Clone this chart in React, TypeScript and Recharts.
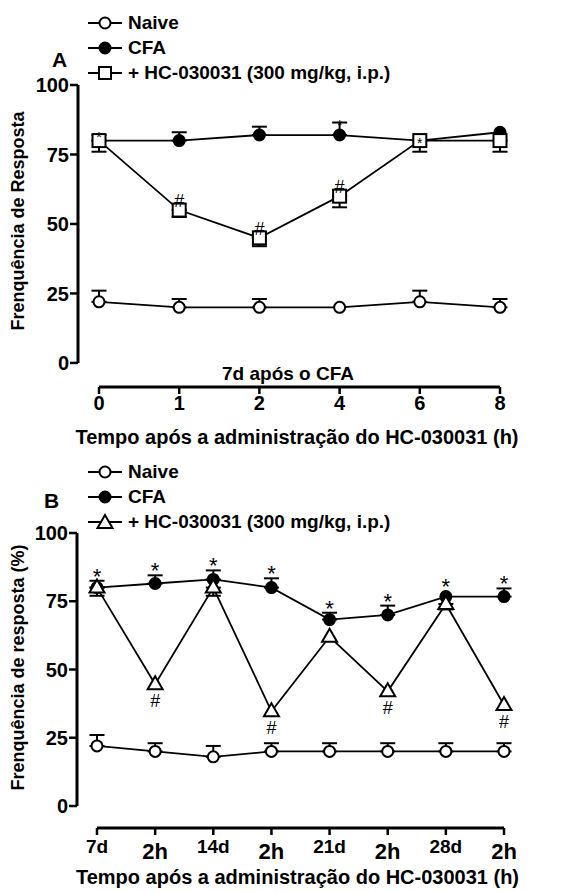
import React from "react";
import { LineChart, Line, XAxis, YAxis, ErrorBar, ReferenceLine, LabelList, Label } from "recharts";

const FONT = "'Liberation Sans', Arial, Helvetica, sans-serif";

// painel A: 7d após o CFA
const catsA = ["0", "1", "2", "4", "6", "8"];
const naiveA = [22, 20, 20, 20, 22, 20];
const naiveErrA = [4, 3, 3, null, 4, 3];
const cfaA = [80, 80, 82, 82, 80, 83];
const cfaErrA = [2, 3, 3, 4.5, null, null];
const hcA = [80, 55, 45, 60, 80, 80];
const hcErrA = [4, 2.5, 3, 4, 4, 4];
const hashA = ["", "#", "#", "#", "", ""];
const starA = ["*", "", "", "*", "*", ""];

// painel B: 7d, 14d, 21d, 28d e 2h após cada dose
const catsB = ["7d", "2h", "14d", "2h", "21d", "2h", "28d", "2h"];
const naiveB = [22, 20, 18, 20, 20, 20, 20, 20];
const naiveErrB = [4, 3, 4, 3, 3, 3, 3, 3];
const cfaB = [80, 81.5, 83, 80, 68.3, 70, 76.7, 76.7];
const cfaErrB = [2.5, 3, 3.3, 3.4, 2.5, 3.4, null, 3];
const hcB = [80, 44.6, 80, 34.7, 62, 42, 74, 37];
const hcErrB = [3, null, 3, null, null, null, 2, null];
const hashB = ["", "#", "", "#", "", "#", "", "#"];
const starB = ["*", "*", "*", "*", "*", "*", "*", "*"];

const up = (e: number | null) => (e == null ? null : [0, e]);
const down = (e: number | null) => (e == null ? null : [e, 0]);

const rowsA = catsA.map((_, i) => ({
  i,
  naive: naiveA[i],
  naiveErr: up(naiveErrA[i]),
  cfa: cfaA[i],
  cfaErr: up(cfaErrA[i]),
  hc: hcA[i],
  hcErr: down(hcErrA[i]),
  hash: hashA[i],
  star: starA[i],
  starY: starA[i] ? cfaA[i] + (cfaErrA[i] ?? 0) : null,
}));

const rowsB = catsB.map((_, i) => ({
  i,
  naive: naiveB[i],
  naiveErr: up(naiveErrB[i]),
  cfa: cfaB[i],
  cfaErr: up(cfaErrB[i]),
  hc: hcB[i],
  hcErr: down(hcErrB[i]),
  hash: hashB[i],
  star: starB[i],
  starY: starB[i] ? cfaB[i] + (cfaErrB[i] ?? 2) : null,
}));

// marcadores
const openCircle = (p: any) =>
  p.cx == null || p.cy == null ? <g key={`oc${p.index}`} /> : (
    <circle key={`oc${p.index}`} cx={p.cx} cy={p.cy} r={5.5} fill="#fff" stroke="#000" strokeWidth={2} />
  );
const filledCircle = (p: any) =>
  p.cx == null || p.cy == null ? <g key={`fc${p.index}`} /> : (
    <circle key={`fc${p.index}`} cx={p.cx} cy={p.cy} r={5.5} fill="#000" stroke="#000" strokeWidth={2} />
  );
const square = (p: any) =>
  p.cx == null || p.cy == null ? <g key={`sq${p.index}`} /> : (
    <rect key={`sq${p.index}`} x={p.cx - 6.5} y={p.cy - 6.5} width={13} height={13} fill="#fff" stroke="#000" strokeWidth={2} />
  );
const triangle = (p: any) =>
  p.cx == null || p.cy == null ? <g key={`tr${p.index}`} /> : (
    <polygon
      key={`tr${p.index}`}
      points={`${p.cx},${p.cy - 8} ${p.cx - 7.5},${p.cy + 5} ${p.cx + 7.5},${p.cy + 5}`}
      fill="#fff"
      stroke="#000"
      strokeWidth={2}
    />
  );

// rótulos # e *
const mark = (size: number, dy: number, weight = 400) => (p: any) => {
  if (!p.value || p.x == null || p.y == null) return null;
  return (
    <text key={`m${p.index}`} x={p.x} y={p.y + dy} textAnchor="middle" fontSize={size} fontWeight={weight}
      fontFamily={FONT} fill="#000">
      {p.value}
    </text>
  );
};

const tickStyle = { fill: "#000", fontSize: 20, fontWeight: 700, fontFamily: FONT };
const tickLine = { stroke: "#000", strokeWidth: 2.5 };

const TickA = (p: any) => (
  <text x={p.x} y={p.y + 7} textAnchor="middle" dominantBaseline="central" {...tickStyle}>
    {catsA[p.payload.value]}
  </text>
);

const TickB = (p: any) => {
  const lab = catsB[p.payload.value];
  const big = lab.endsWith("h");
  return (
    <text x={p.x} y={p.y + (big ? 14 : 9)} textAnchor="middle" dominantBaseline="central"
      fill="#000" fontWeight={700} fontFamily={FONT} fontSize={big ? 22 : 19}>
      {lab}
    </text>
  );
};

const yTitle = (text: string, dy: number) => (p: any) => {
  const vb = p.viewBox;
  const cx = vb.x + 18;
  const cy = vb.y + vb.height / 2 + dy;
  return (
    <text x={cx} y={cy} transform={`rotate(-90, ${cx}, ${cy})`} textAnchor="middle" dominantBaseline="central"
      fontSize={18} fontWeight={700} fontFamily={FONT} fill="#000">
      {text}
    </text>
  );
};

const xText = (text: string, dx: number, dy: number, size = 20) => (p: any) => {
  const vb = p.viewBox;
  return (
    <text x={vb.x + vb.width / 2 + dx} y={vb.y + dy} textAnchor="middle" dominantBaseline="central"
      fontSize={size} fontWeight={700} fontFamily={FONT} fill="#000">
      {text}
    </text>
  );
};

function Legend({ top, hcShape }: { top: number; hcShape: "square" | "triangle" }) {
  const rows = [
    { label: "Naive", shape: "open" },
    { label: "CFA", shape: "filled" },
    { label: "+ HC-030031 (300 mg/kg, i.p.)", shape: hcShape },
  ];
  return (
    <div style={{ position: "absolute", left: 87, top, fontFamily: FONT, fontWeight: 700, fontSize: 19 }}>
      {rows.map((r) => (
        <div key={r.label} style={{ display: "flex", alignItems: "center", height: 25 }}>
          <svg width={36} height={18} style={{ marginRight: 5 }}>
            <line x1={1} y1={9} x2={35} y2={9} stroke="#000" strokeWidth={2} />
            {r.shape === "open" && <circle cx={18} cy={9} r={5.5} fill="#fff" stroke="#000" strokeWidth={2} />}
            {r.shape === "filled" && <circle cx={18} cy={9} r={5.5} fill="#000" stroke="#000" strokeWidth={2} />}
            {r.shape === "square" && <rect x={12} y={3} width={12} height={12} fill="#fff" stroke="#000" strokeWidth={2} />}
            {r.shape === "triangle" && <polygon points="18,2 10.5,15 25.5,15" fill="#fff" stroke="#000" strokeWidth={2} />}
          </svg>
          <span>{r.label}</span>
        </div>
      ))}
    </div>
  );
}

// limites dos eixos (posição dos eixos destacados)
const yMinA = -8.66;
const xMinA = -0.262;
const yMinB = -8.06;
const xMinB = -0.344;

export default function App() {
  return (
    <div style={{ position: "relative", width: 580, height: 892, background: "#fff" }}>
      <style>{"body{margin:0}"}</style>

      <div style={{ position: "absolute", left: 0, top: 0 }}>
        <LineChart width={580} height={455} data={rowsA} margin={{ top: 85, right: 80, bottom: 0, left: 0 }}>
          <XAxis type="number" dataKey="i" domain={[xMinA, 5]} ticks={[0, 1, 2, 3, 4, 5]} interval={0}
            axisLine={false} tickLine={tickLine} tickSize={7} height={68} tick={<TickA />}>
            <Label content={xText("7d após o CFA", -1, -14, 19)} />
            <Label content={xText("Tempo após a administração do HC-030031 (h)", 8, 50)} />
          </XAxis>
          <YAxis domain={[yMinA, 100]} ticks={[0, 25, 50, 75, 100]} interval={0} width={78}
            axisLine={false} tickLine={tickLine} tickSize={8} tickMargin={1} tick={tickStyle}>
            <Label content={yTitle("Frenquência de Resposta", -15)} />
          </YAxis>
          <ReferenceLine segment={[{ x: xMinA, y: 0 }, { x: xMinA, y: 100 }]} stroke="#000" strokeWidth={3} ifOverflow="visible" />
          <ReferenceLine segment={[{ x: 0, y: yMinA }, { x: 5, y: yMinA }]} stroke="#000" strokeWidth={3} ifOverflow="visible" />
          <Line dataKey="naive" stroke="#000" strokeWidth={1.8} dot={openCircle} activeDot={false} isAnimationActive={false}>
            <ErrorBar dataKey="naiveErr" direction="y" width={7.5} strokeWidth={2} stroke="#000" />
          </Line>
          <Line dataKey="cfa" stroke="#000" strokeWidth={1.8} dot={filledCircle} activeDot={false} isAnimationActive={false}>
            <ErrorBar dataKey="cfaErr" direction="y" width={7.5} strokeWidth={2} stroke="#000" />
          </Line>
          <Line dataKey="hc" stroke="#000" strokeWidth={1.8} dot={square} activeDot={false} isAnimationActive={false}>
            <ErrorBar dataKey="hcErr" direction="y" width={7.5} strokeWidth={2} stroke="#000" />
            <LabelList dataKey="hash" content={mark(18, -3)} />
          </Line>
          <Line dataKey="starY" stroke="none" dot={false} activeDot={false} isAnimationActive={false}>
            <LabelList dataKey="star" content={mark(14, 7)} />
          </Line>
        </LineChart>
        <Legend top={10} hcShape="square" />
        <div style={{ position: "absolute", left: 52, top: 49, lineHeight: "22px", fontFamily: FONT, fontWeight: 700, fontSize: 21 }}>A</div>
      </div>

      <div style={{ position: "absolute", left: 0, top: 445 }}>
        <LineChart width={580} height={447} data={rowsB} margin={{ top: 88, right: 76, bottom: 0, left: 0 }}>
          <XAxis type="number" dataKey="i" domain={[xMinB, 7]} ticks={[0, 1, 2, 3, 4, 5, 6, 7]} interval={0}
            axisLine={false} tickLine={tickLine} tickSize={7} height={64} tick={<TickB />}>
            <Label content={xText("Tempo após a administração do HC-030031 (h)", 7, 49)} />
          </XAxis>
          <YAxis domain={[yMinB, 100]} ticks={[0, 25, 50, 75, 100]} interval={0} width={77}
            axisLine={false} tickLine={tickLine} tickSize={8} tickMargin={1} tick={tickStyle}>
            <Label content={yTitle("Frenquência de resposta (%)", -13)} />
          </YAxis>
          <ReferenceLine segment={[{ x: xMinB, y: 0 }, { x: xMinB, y: 100 }]} stroke="#000" strokeWidth={3} ifOverflow="visible" />
          <ReferenceLine segment={[{ x: 0, y: yMinB }, { x: 7, y: yMinB }]} stroke="#000" strokeWidth={3} ifOverflow="visible" />
          <Line dataKey="naive" stroke="#000" strokeWidth={1.8} dot={openCircle} activeDot={false} isAnimationActive={false}>
            <ErrorBar dataKey="naiveErr" direction="y" width={7.5} strokeWidth={2} stroke="#000" />
          </Line>
          <Line dataKey="cfa" stroke="#000" strokeWidth={1.8} dot={filledCircle} activeDot={false} isAnimationActive={false}>
            <ErrorBar dataKey="cfaErr" direction="y" width={7.5} strokeWidth={2} stroke="#000" />
          </Line>
          <Line dataKey="hc" stroke="#000" strokeWidth={1.8} dot={triangle} activeDot={false} isAnimationActive={false}>
            <ErrorBar dataKey="hcErr" direction="y" width={7.5} strokeWidth={2} stroke="#000" />
            <LabelList dataKey="hash" content={mark(18, 23)} />
          </Line>
          <Line dataKey="starY" stroke="none" dot={false} activeDot={false} isAnimationActive={false}>
            <LabelList dataKey="star" content={mark(22, 3)} />
          </Line>
        </LineChart>
        <Legend top={459 - 445} hcShape="triangle" />
        <div style={{ position: "absolute", left: 44, top: 490 - 445, lineHeight: "22px", fontFamily: FONT, fontWeight: 700, fontSize: 21 }}>B</div>
      </div>
    </div>
  );
}
